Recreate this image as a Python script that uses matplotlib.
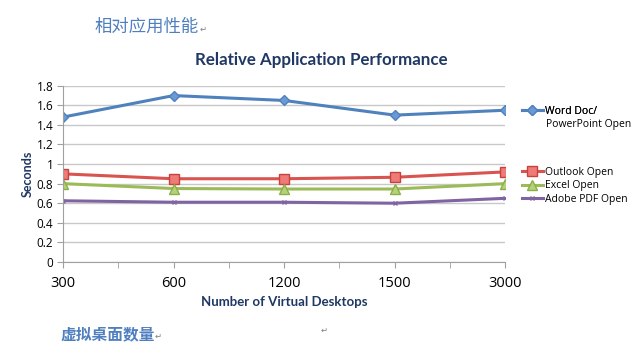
import matplotlib
matplotlib.use("Agg")
import matplotlib.pyplot as plt
from matplotlib.ticker import FixedLocator

desktops = ["300", "600", "1200", "1500", "3000"]
word = [1.48, 1.70, 1.65, 1.50, 1.55]
outlook = [0.90, 0.85, 0.85, 0.865, 0.92]
excel = [0.80, 0.75, 0.745, 0.745, 0.80]
adobe = [0.625, 0.61, 0.61, 0.60, 0.65]
yticks = [0, 0.2, 0.4, 0.6, 0.8, 1, 1.2, 1.4, 1.6, 1.8]
ylabels = ["0", "0.2", "0.4", "0.6", "0.8", "1", "1.2", "1.4", "1.6", "1.8"]

navy = "#1F3864"
cjk = ["Noto Sans CJK SC", "DejaVu Sans"]
W, H = 639, 353

fig = plt.figure(figsize=(6.39, 3.53), dpi=100)
ax = fig.add_axes([0.0986, 0.258, 0.692, 0.499])

x = list(range(len(desktops)))
l1, = ax.plot(x, word, color="#4F81BD", lw=2.2, marker="D", ms=5,
              mfc="#6A9AD6", mec="#4F81BD", label="Word Doc/")
l2, = ax.plot(x, outlook, color="#D9534F", lw=2.2, marker="s", ms=7,
              mfc="#EE7B78", mec="#C9413D", label="Outlook Open")
l3, = ax.plot(x, excel, color="#9BBB59", lw=2.2, marker="^", ms=7,
              mfc="#B5D27A", mec="#8CAE48", label="Excel Open")
l4, = ax.plot(x, adobe, color="#8064A2", lw=2.2, marker="x", ms=3,
              mec="#8064A2", label="Adobe PDF Open")

ax.set_xlim(0, 4)
ax.set_ylim(0, 1.8)
ax.set_xticks(x)
ax.set_xticklabels(desktops, fontsize=10.5, family="Open Sans")
ax.xaxis.set_minor_locator(FixedLocator([0.5, 1.5, 2.5, 3.5]))
ax.set_yticks(yticks)
ax.set_yticklabels(ylabels, fontsize=8.5, family="Open Sans")
ax.tick_params(axis="x", which="both", direction="out", length=4, color="#A0A0A0", pad=6)
ax.tick_params(axis="y", direction="out", length=4, color="#A0A0A0", pad=3)
ax.grid(axis="y", color="#C8C8C8", lw=1)
ax.set_axisbelow(True)
for s in ["top", "right"]:
    ax.spines[s].set_visible(False)
for s in ["left", "bottom"]:
    ax.spines[s].set_color("#A0A0A0")

ax.set_ylabel("Seconds", fontsize=9, fontweight="bold", color=navy, family="Lato", labelpad=2)
ax.set_xlabel("Number of Virtual Desktops", fontsize=9.5, fontweight="bold", color=navy,
              family="Lato", labelpad=4)
fig.text(321 / W, 1 - 60 / H, "Relative Application Performance", ha="center", va="center",
         fontsize=12.2, fontweight="bold", color=navy, family="Lato")

leg_kw = dict(frameon=False, handlelength=2.0, handletextpad=0.25, labelspacing=0.25,
              borderpad=0, borderaxespad=0, loc="center left",
              prop={"family": "Open Sans", "size": 7.5})
leg1 = fig.legend(handles=[l1], bbox_to_anchor=(522 / W, 1 - 111 / H), **leg_kw)
fig.add_artist(leg1)
fig.legend(handles=[l2, l3, l4], bbox_to_anchor=(522 / W, 1 - 186 / H), **leg_kw)
fig.text(546 / W, 1 - 124 / H, "PowerPoint Open", fontsize=7.5, family="Open Sans", va="center")

fig.text(95 / W, 1 - 27 / H, "相对应用性能", fontsize=12.5, color="#4F7FBF", family=cjk, va="center")
fig.text(200 / W, 1 - 29 / H, "↵", fontsize=6, color="#808080", family=cjk, va="center")
fig.text(60 / W, 1 - 334 / H, "虚拟桌面数量", fontsize=11.3, color="#4F7FBF", fontweight="bold",
         family=cjk, va="center")
fig.text(155 / W, 1 - 336 / H, "↵", fontsize=6, color="#808080", family=cjk, va="center")
fig.text(321 / W, 1 - 330 / H, "↵", fontsize=6, color="#808080", family=cjk, va="center")

fig.savefig("out.png", dpi=100)
